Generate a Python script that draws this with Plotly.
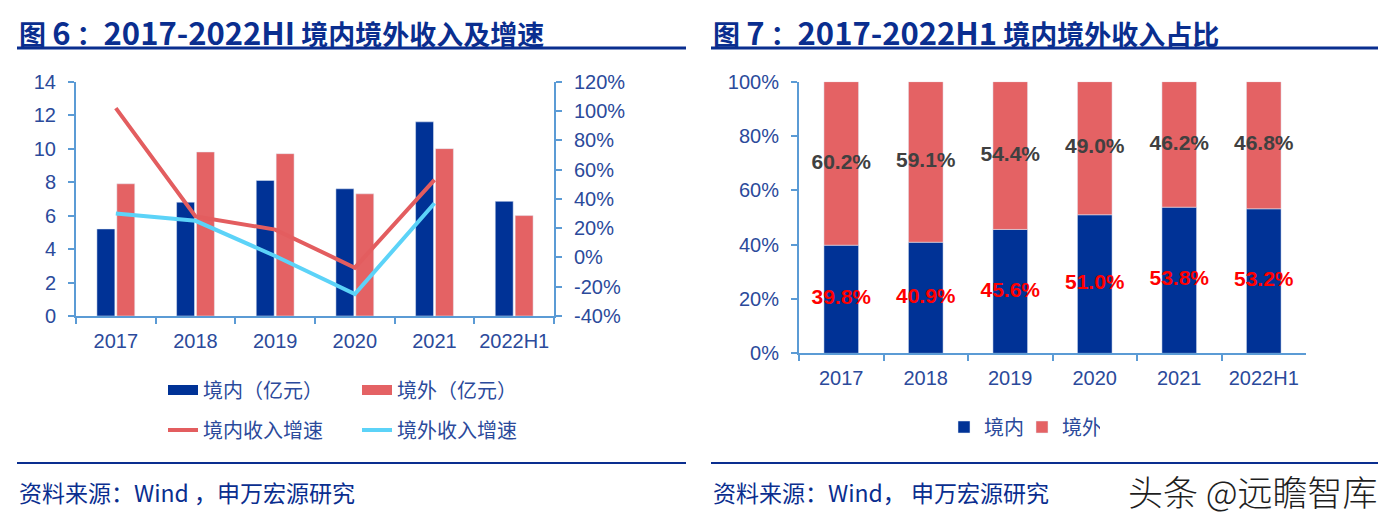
import plotly.graph_objects as go

W, H = 1391, 515
OFF = 8  # browser body margin

# ---------------- data ----------------
categories = ["2017", "2018", "2019", "2020", "2021", "2022H1"]
domestic_rev = [5.2, 6.8, 8.1, 7.6, 11.6, 6.85]      # 境内（亿元）
overseas_rev = [7.9, 9.8, 9.7, 7.3, 10.0, 6.0]       # 境外（亿元）
domestic_growth = [102, 28, 19, -7, 53, None]        # 境内收入增速 %
overseas_growth = [30, 25, 1, -25, 37, None]         # 境外收入增速 %
domestic_share = [39.8, 40.9, 45.6, 51.0, 53.8, 53.2]  # 境内占比 %
overseas_share = [60.2, 59.1, 54.4, 49.0, 46.2, 46.8]  # 境外占比 %

left_yticks = [0, 2, 4, 6, 8, 10, 12, 14]
growth_ticks = [-40, -20, 0, 20, 40, 60, 80, 100, 120]
share_ticks = [0, 20, 40, 60, 80, 100]

# ---------------- style ----------------
DARK = "#003296"
RED = "#E46264"
RED_LINE = "#E35D5F"
CYAN = "#5CD3F8"
AXC = "#5B9BD5"
TXT = "#2B4A9B"
TITLE = "#0A2E8F"
FONT = "Arial, 'Liberation Sans', 'Noto Sans CJK SC', sans-serif"
CJK = "'Noto Sans CJK SC', 'Microsoft YaHei', sans-serif"

FW, FH = W - OFF, H - OFF


def px(x):
    return (x - OFF) / FW


def py(y):
    return 1 - (y - OFF) / FH


fig = go.Figure()

# ---- left chart: bars ----
fig.add_trace(go.Bar(x=categories, y=domestic_rev, marker_color=DARK, name="境内（亿元）",
                     xaxis="x", yaxis="y", showlegend=False))
fig.add_trace(go.Bar(x=categories, y=overseas_rev, marker_color=RED, name="境外（亿元）",
                     xaxis="x", yaxis="y", showlegend=False))
# legend keys for the bars (wide rectangles like the reference)
fig.add_trace(go.Scatter(x=[None], y=[None], mode="lines", name="境内（亿元）",
                         line=dict(color=DARK, width=10), xaxis="x", yaxis="y", legend="legend"))
fig.add_trace(go.Scatter(x=[None], y=[None], mode="lines", name="境外（亿元）",
                         line=dict(color=RED, width=10), xaxis="x", yaxis="y", legend="legend"))
# ---- left chart: growth lines ----
fig.add_trace(go.Scatter(x=categories, y=domestic_growth, mode="lines", name="境内收入增速",
                         line=dict(color=RED_LINE, width=4), xaxis="x", yaxis="y2",
                         legend="legend3"))
fig.add_trace(go.Scatter(x=categories, y=overseas_growth, mode="lines", name="境外收入增速",
                         line=dict(color=CYAN, width=4), xaxis="x", yaxis="y2",
                         legend="legend3"))

# ---- right chart: 100% stacked bars ----
fig.add_trace(go.Bar(x=categories, y=domestic_share, marker_color=DARK, name="境内",
                     width=0.41, offset=-0.205, xaxis="x2", yaxis="y3", legend="legend2"))
fig.add_trace(go.Bar(x=categories, y=overseas_share, base=domestic_share, marker_color=RED,
                     name="境外", width=0.41, offset=-0.205, xaxis="x2", yaxis="y3",
                     legend="legend2"))
# labels centred in each segment
dom_mid = [d / 2 for d in domestic_share]
ovs_mid = [d + o / 2 for d, o in zip(domestic_share, overseas_share)]
fig.add_trace(go.Scatter(x=categories, y=dom_mid, mode="text",
                         text=[f"{v:.1f}%" for v in domestic_share],
                         textfont=dict(family=FONT, size=21, color="#FF0000", weight="bold"),
                         xaxis="x2", yaxis="y3", showlegend=False, hoverinfo="skip"))
fig.add_trace(go.Scatter(x=categories, y=ovs_mid, mode="text",
                         text=[f"{v:.1f}%" for v in overseas_share],
                         textfont=dict(family=FONT, size=21, color="#404040", weight="bold"),
                         xaxis="x2", yaxis="y3", showlegend=False, hoverinfo="skip"))

tickfont = dict(family=FONT, size=20, color=TXT)
axis_common = dict(showline=True, linecolor=AXC, linewidth=2, ticks="outside",
                   tickcolor=AXC, tickwidth=2, ticklen=6, showgrid=False, zeroline=False,
                   tickfont=tickfont, fixedrange=True, automargin=False, tickangle=0)

legend_common = dict(orientation="h", font=dict(family=CJK, size=20, color=TXT),
                     bgcolor="rgba(0,0,0,0)", borderwidth=0, xanchor="left",
                     yanchor="middle", entrywidthmode="pixels", itemclick=False)

fig.update_layout(
    width=FW, height=FH, autosize=False,
    margin=dict(l=0, r=0, t=0, b=0, pad=0, autoexpand=False),
    paper_bgcolor="white", plot_bgcolor="white",
    barmode="group", bargap=0.5, bargroupgap=0.1,
    font=dict(family=FONT, color=TXT),
    xaxis=dict(domain=[px(76), px(554)], anchor="y", type="category", range=[-0.5, 5.5],
               tickson="boundaries", ticklabelstandoff=6, **axis_common),
    yaxis=dict(domain=[py(316), py(81.7)], anchor="x", range=[0, 14], tickmode="array",
               tickvals=left_yticks, ticktext=[str(v) for v in left_yticks],
               ticklabelstandoff=8, **axis_common),
    yaxis2=dict(overlaying="y", side="right", anchor="x", range=[-40, 120], tickmode="array",
                tickvals=growth_ticks, ticktext=[f"{v}%" for v in growth_ticks],
                ticklabelstandoff=8, **axis_common),
    xaxis2=dict(domain=[px(799), px(1306)], anchor="y3", type="category", range=[-0.5, 5.5],
                tickson="boundaries", ticklabelstandoff=6, **axis_common),
    yaxis3=dict(domain=[py(353.3), py(81.7)], anchor="x2", range=[0, 100], tickmode="array",
                tickvals=share_ticks, ticktext=[f"{v}%" for v in share_ticks],
                ticklabelstandoff=8, **axis_common),
    legend=dict(x=px(163), y=py(390), entrywidth=149, **legend_common),
    legend3=dict(x=px(163), y=py(430), entrywidth=149, **legend_common),
    legend2=dict(x=px(944), y=py(427), entrywidth=33, **legend_common),
    showlegend=True,
)

# ---- titles, rules, footers ----
big = "<span style='font-size:31px'>{}</span>"
fig.add_annotation(x=px(17), y=py(31), xref="paper", yref="paper", xanchor="left",
                   yanchor="middle", showarrow=False,
                   text="<b>图 " + big.format("6") + " ：" + big.format("2017-2022HI")
                        + " 境内境外收入及增速</b>",
                   font=dict(family=CJK, size=27, color=TITLE))
fig.add_annotation(x=px(711), y=py(31), xref="paper", yref="paper", xanchor="left",
                   yanchor="middle", showarrow=False,
                   text="<b>图 " + big.format("7") + " ：" + big.format("2017-2022H1")
                        + " 境内境外收入占比</b>",
                   font=dict(family=CJK, size=27, color=TITLE))
for x0, x1 in [(17, 686), (711, 1378)]:
    fig.add_shape(type="line", xref="paper", yref="paper", x0=px(x0), x1=px(x1),
                  y0=py(48), y1=py(48), line=dict(color=TITLE, width=3))
    fig.add_shape(type="line", xref="paper", yref="paper", x0=px(x0), x1=px(x1),
                  y0=py(463), y1=py(463), line=dict(color=TITLE, width=2))
fig.add_annotation(x=px(17), y=py(492), xref="paper", yref="paper", xanchor="left",
                   yanchor="middle", showarrow=False, text="资料来源：Wind ，申万宏源研究",
                   font=dict(family=CJK, size=23, color=TITLE))
fig.add_annotation(x=px(711), y=py(492), xref="paper", yref="paper", xanchor="left",
                   yanchor="middle", showarrow=False, text="资料来源：Wind， 申万宏源研究",
                   font=dict(family=CJK, size=23, color=TITLE))
fig.add_annotation(x=px(1380), y=py(490), xref="paper", yref="paper", xanchor="right",
                   yanchor="middle", showarrow=False, text="头条 @远瞻智库",
                   font=dict(family=CJK, size=35, color="#1E1E1E", weight=300))

fig.write_html("out.html")
